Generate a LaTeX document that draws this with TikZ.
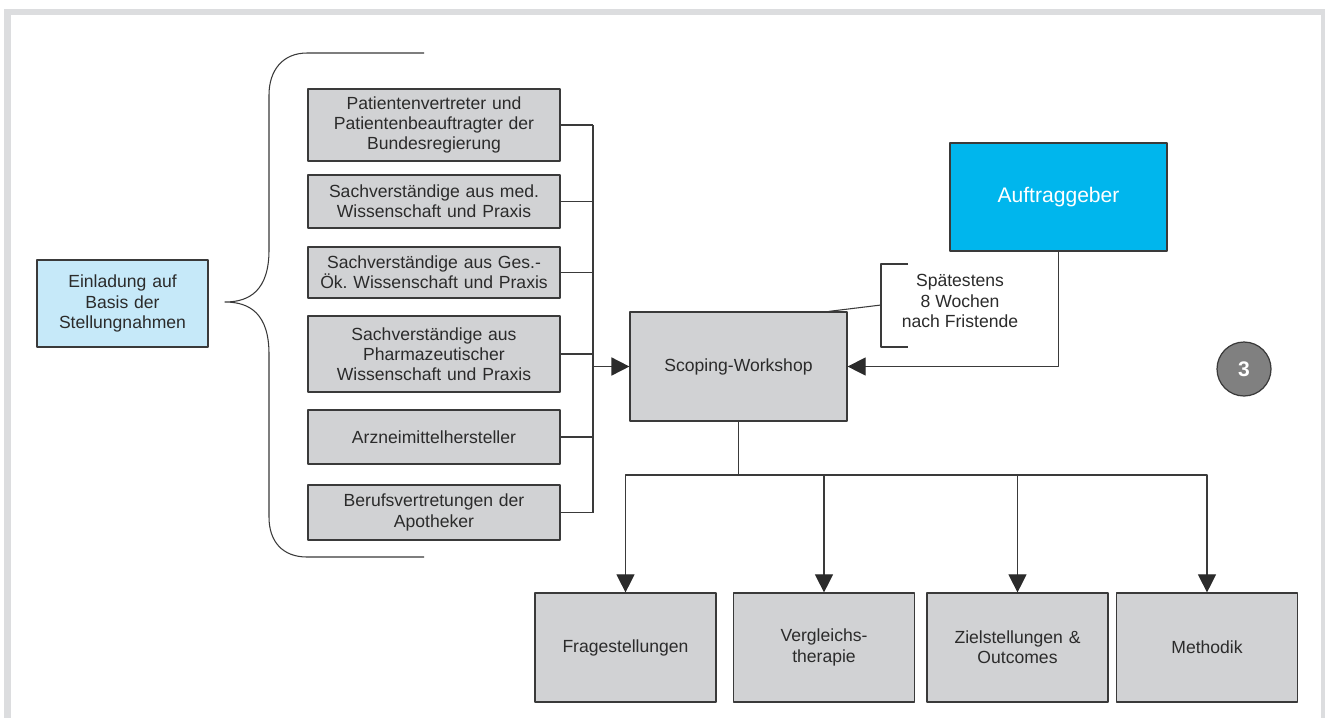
\documentclass[tikz,border=0pt]{standalone}
\usepackage{fontspec}
\setmainfont{Liberation Sans}
\usetikzlibrary{arrows.meta,calc}
\definecolor{boxgray}{HTML}{D1D2D4}
\definecolor{lineg}{HTML}{3A3A3A}
\definecolor{txtg}{HTML}{2B2B2B}
\definecolor{lightblue}{HTML}{C6E9F9}
\definecolor{cyanbox}{HTML}{00B6ED}
\definecolor{framegray}{HTML}{DCDDDF}
\definecolor{dotgray}{HTML}{808080}

\begin{document}
\begin{tikzpicture}[x=0.02cm, y=-0.02cm, >={Triangle[length=0.36cm,width=0.36cm,color=txtg]},
	font=\fontsize{10}{11.5}\selectfont, text=txtg, line join=round,
	conn/.style={draw=lineg, line width=0.6pt},
	gbox/.style={draw=lineg, line width=0.7pt, fill=boxgray, align=center, inner sep=0pt, text width=#1},
	gbox/.default=4.8cm]
	\useasboundingbox (0,0) rectangle (1325,718);
	\fill[framegray] (4,9) rectangle (1325,718);
	\fill[white] (11,15) rectangle (1321,718);
	
	% left side
	\node[gbox=3.2cm, fill=lightblue, minimum width=3.42cm, minimum height=1.74cm] (einl) at (122.5,303.5) {Einladung auf\\Basis der\\Stellungnahmen};
	\draw[conn] (424,53) -- (307,53) .. controls (283,53) and (269,70) .. (269,95) -- (269,250)
		.. controls (269,290) and (250,302) .. (225,302) .. controls (250,302) and (269,314) .. (269,354)
		-- (269,517) .. controls (269,542) and (283,557) .. (307,557) -- (424,557);
	
	\node[gbox, minimum width=5.04cm, minimum height=1.44cm] (p1) at (434,125) {Patientenvertreter und\\Patientenbeauftragter der\\Bundesregierung};
	\node[gbox, minimum width=5.04cm, minimum height=1.06cm] (p2) at (434,201.5) {Sachverständige aus med.\\Wissenschaft und Praxis};
	\node[gbox, minimum width=5.04cm, minimum height=1.02cm] (p3) at (434,272.5) {Sachverständige aus Ges.-\\Ök.\ Wissenschaft und Praxis};
	\node[gbox, minimum width=5.04cm, minimum height=1.52cm] (p4) at (434,354) {Sachverständige aus\\Pharmazeutischer\\Wissenschaft und Praxis};
	\node[gbox, minimum width=5.04cm, minimum height=1.08cm] (p5) at (434,437) {Arzneimittelhersteller};
	\node[gbox, minimum width=5.04cm, minimum height=1.1cm] (p6) at (434,512.5) {Berufsvertretungen der\\Apotheker};
	
	% centre
	\node[gbox=4cm, minimum width=4.34cm, minimum height=2.18cm] (scop) at (738.5,366.5) {Scoping-Workshop};
	\node[gbox=4cm, fill=cyanbox, text=white, font=\fontsize{12}{14}\selectfont, minimum width=4.34cm, minimum height=2.16cm] (auftr) at (1058.5,197) {Auftraggeber};
	\node[align=center] (note) at (960,301) {Spätestens\\8 Wochen\\nach Fristende};
	\node[circle, draw=lineg, line width=0.7pt, fill=dotgray, text=white, minimum size=1.08cm, inner sep=0pt, font=\bfseries\fontsize{12}{12}\selectfont] (num) at (1244,369) {3};
	
	% bottom
	\node[gbox=3.4cm, minimum width=3.62cm, minimum height=2.18cm] (b1) at (625.5,647.5) {Fragestellungen};
	\node[gbox=3.4cm, minimum width=3.62cm, minimum height=2.18cm] (b2) at (824,647.5) {Vergleichs-\\therapie};
	\node[gbox=3.4cm, minimum width=3.62cm, minimum height=2.18cm] (b3) at (1017.5,647.5) {Zielstellungen \&\\Outcomes};
	\node[gbox=3.4cm, minimum width=3.62cm, minimum height=2.18cm] (b4) at (1207,647.5) {Methodik};
	
	% connectors
	\coordinate (bus) at (593,0);
	\foreach \n in {p1,p2,p3,p4,p5,p6}
		\draw[conn] (\n.east) -- (\n.east -| bus);
	\draw[conn] (bus |- p1.east) -- (bus |- p6.east);
	\draw[conn, line width=1pt, ->] (bus |- scop.west) -- (scop.west);
	\draw[conn, ->] (auftr.south) |- (scop.east);
	
	\coordinate (brk) at (881,305);
	\draw[conn] (908,264) -- (881,264) -- (881,347) -- (908,347);
	\draw[conn] (brk) -- ($(scop.north east)+(-19,0)$);
	
	\coordinate (hub) at (738.5,475);
	\draw[conn, line width=1pt] (scop.south) -- (hub);
	\foreach \n in {b1,b2,b3,b4}
		\draw[conn, ->] (hub) -| (\n.north);
\end{tikzpicture}
\end{document}
